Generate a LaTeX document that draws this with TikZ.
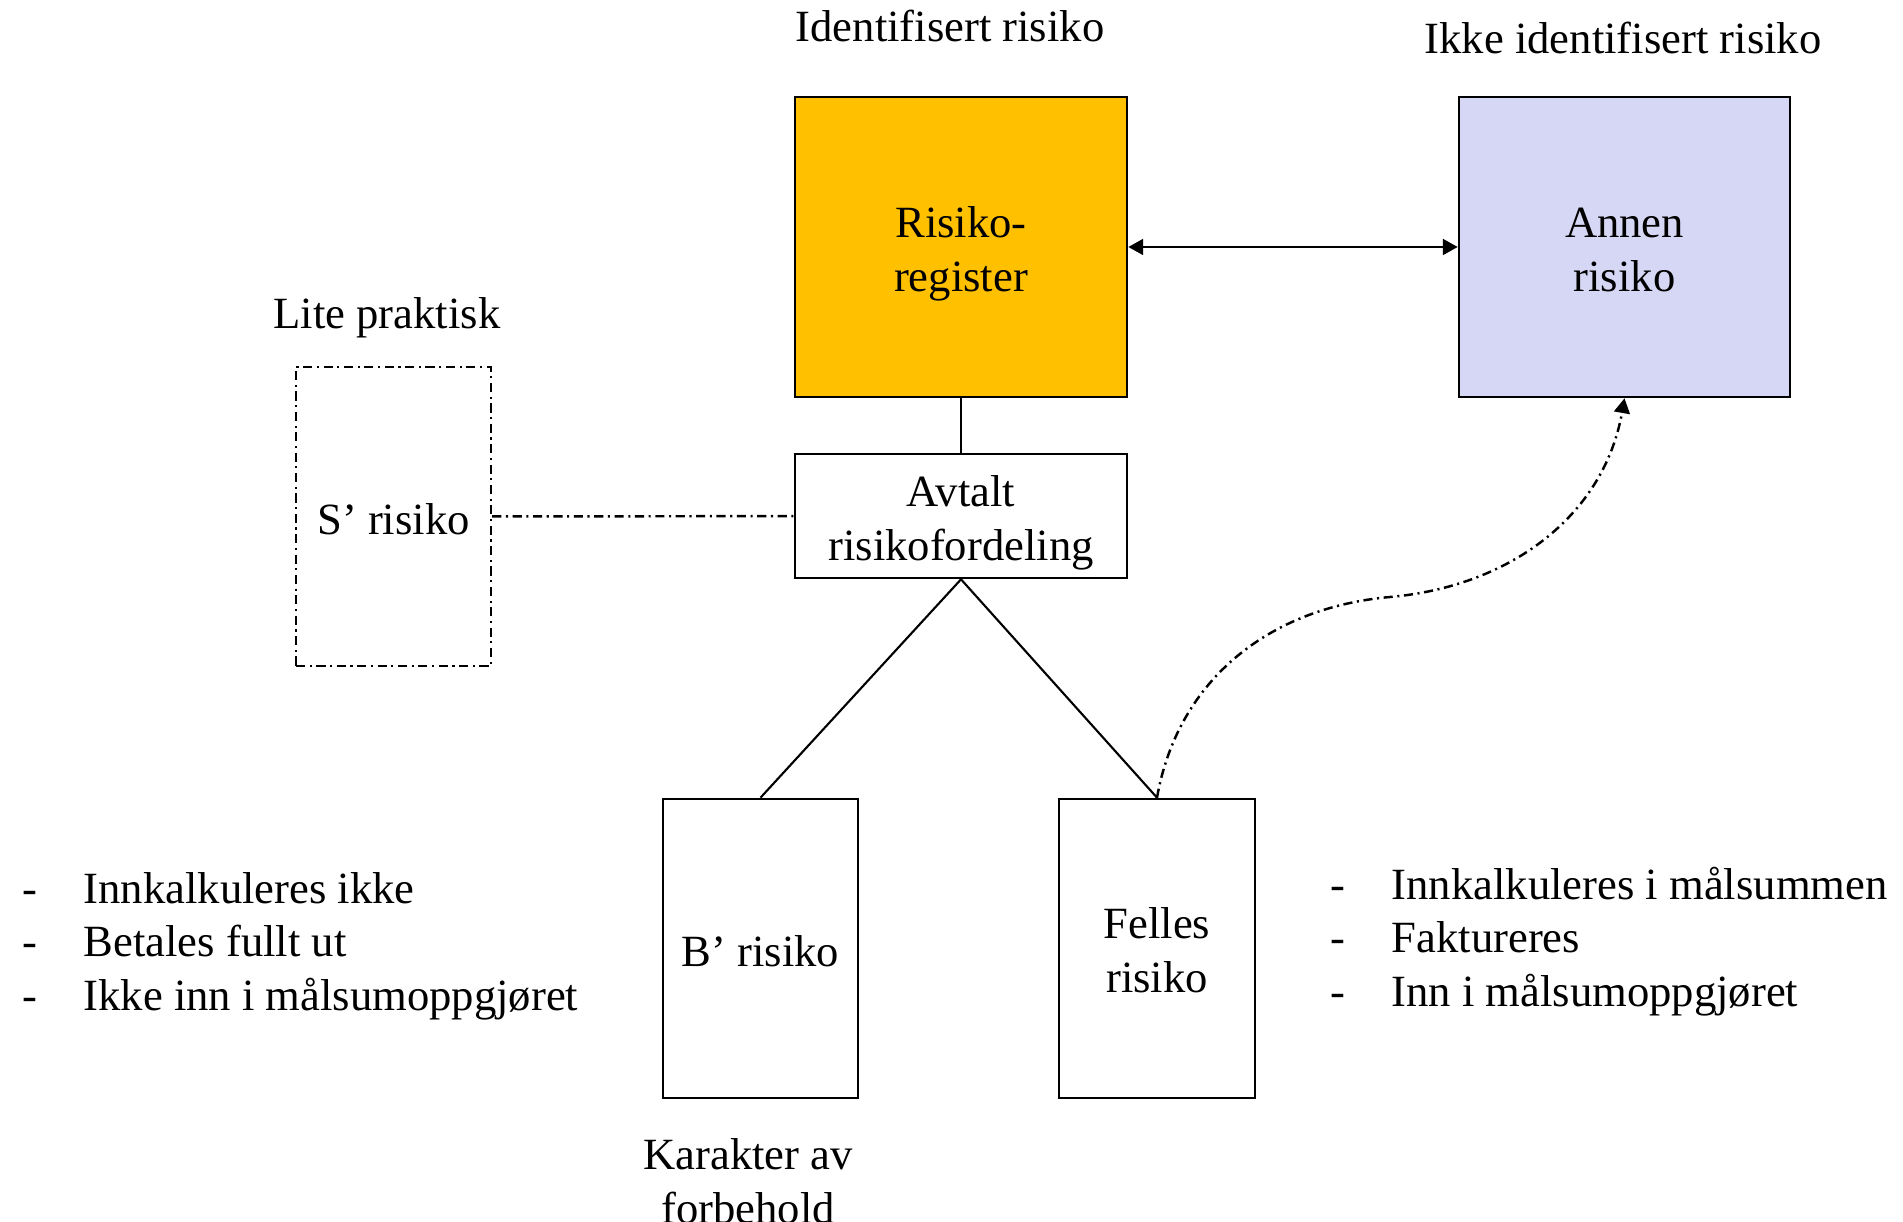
\documentclass[tikz,border=0pt]{standalone}
\usepackage{fontspec}
\setmainfont{Liberation Serif}
\usetikzlibrary{arrows.meta}
\definecolor{regfill}{HTML}{FFC000}
\definecolor{otherfill}{RGB}{214,214,245}
\tikzset{
    every node/.style={font=\fontsize{12.7}{15.4}\selectfont},
    box/.style={rectangle, draw, line width=0.75pt, align=center, inner sep=0pt, text height=13.2pt, text depth=2.8pt},
    twoline/.style={text height=28pt, text depth=2.8pt},
    dashdotline/.style={line width=0.7pt, dash pattern=on 2.6pt off 1.3pt on 0.6pt off 1.3pt},
    caption/.style={inner sep=0pt, align=center},
    listitem/.style={anchor=base west, inner sep=0pt},
    tip/.style={-{Triangle[length=4.2pt, width=4.5pt]}}
}
\begin{document}
\begin{tikzpicture}
    \useasboundingbox (0,0) rectangle (19.03,-12.22);
    % boxes
    \node[box, twoline, fill=regfill, minimum width=3.32cm, minimum height=3cm] (register) at (9.61,-2.47) {Risiko-\\register};
    \node[box, twoline, fill=otherfill, minimum width=3.31cm, minimum height=3cm] (annen) at (16.245,-2.47) {Annen\\risiko};
    \node[box, twoline, minimum width=3.32cm, minimum height=1.24cm] (avtalt) at (9.61,-5.16) {Avtalt\\risikofordeling};
    \node[box, dashdotline, minimum width=1.95cm, minimum height=2.99cm] (srisiko) at (3.935,-5.165) {S' risiko};
    \node[box, minimum width=1.95cm, minimum height=2.99cm] (brisiko) at (7.605,-9.485) {B' risiko};
    \node[box, twoline, minimum width=1.96cm, minimum height=2.99cm] (felles) at (11.57,-9.485) {Felles\\risiko};
    % captions
    \node[caption] (identcap) at (9.50,-0.26) {Identifisert risiko};
    \node[caption] (ikkecap) at (16.23,-0.38) {Ikke identifisert risiko};
    \node[caption] (litecap) at (3.87,-3.18) {Lite praktisk};
    \node[caption] (karcap) at (7.48,-11.81) {Karakter av\\forbehold};
    % lists
    \foreach \txt [count=\i] in {Innkalkuleres ikke, Betales fullt ut, Ikke inn i målsumoppgjøret}
        \node[listitem] (bnote\i) at (0.22,{-9.03-0.535*(\i-1)}) {\makebox[0.61cm][l]{-}\txt};
    \foreach \txt [count=\i] in {Innkalkuleres i målsummen, Faktureres, Inn i målsumoppgjøret}
        \node[listitem] (fnote\i) at (13.30,{-8.99-0.535*(\i-1)}) {\makebox[0.61cm][l]{-}\txt};
    % connectors
    \coordinate (bend) at (13.90,-5.97);
    \draw[line width=0.6pt] (register) -- (avtalt);
    \draw[line width=0.6pt] (avtalt.south) -- (brisiko.north);
    \draw[line width=0.6pt] (avtalt.south) -- (felles.north);
    \draw[line width=0.6pt, {Triangle[length=4.2pt, width=4.5pt]}-{Triangle[length=4.2pt, width=4.5pt]}] (register) -- (annen);
    \draw[dashdotline] (srisiko) -- (avtalt);
    \draw[dashdotline, tip] (felles.north) to[out=80, in=185] (bend) to[out=5, in=-100] (annen.south);
\end{tikzpicture}
\end{document}
